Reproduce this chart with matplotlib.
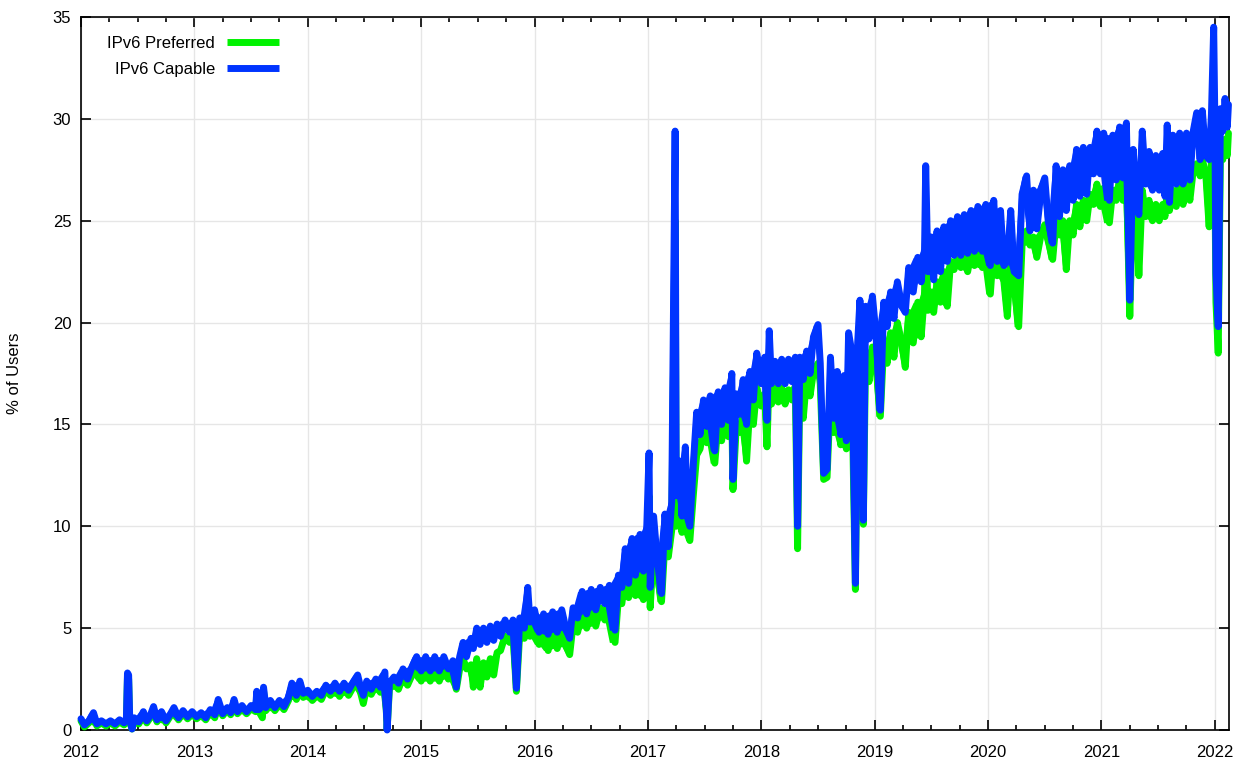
import numpy as np
import matplotlib.pyplot as plt
from matplotlib.ticker import MultipleLocator

# IPv6 adoption, values (hi/lo pairs give the weekly band)
dates = [
    # 2012
    2012.00, 2012.03, 2012.07, 2012.11, 2012.14, 2012.18, 2012.22, 2012.26, 2012.30, 2012.34,
    2012.38, 2012.40, 2012.41, 2012.42, 2012.43, 2012.45, 2012.47, 2012.51, 2012.55, 2012.58,
    2012.61, 2012.64, 2012.67, 2012.71, 2012.75, 2012.79, 2012.82, 2012.86, 2012.90, 2012.94, 2012.98,
    # 2013
    2013.02, 2013.06, 2013.10, 2013.14, 2013.18, 2013.21, 2013.25, 2013.29, 2013.32, 2013.35,
    2013.38, 2013.42, 2013.46, 2013.50, 2013.54, 2013.55, 2013.57, 2013.60, 2013.61, 2013.63,
    2013.67, 2013.71, 2013.75, 2013.79, 2013.83, 2013.86, 2013.90, 2013.93, 2013.96,
    # 2014
    2014.00, 2014.04, 2014.08, 2014.12, 2014.16, 2014.20, 2014.24, 2014.28, 2014.32, 2014.36,
    2014.40, 2014.44, 2014.47, 2014.49, 2014.52, 2014.56, 2014.60, 2014.64, 2014.68, 2014.70,
    2014.72, 2014.76, 2014.80, 2014.84, 2014.88, 2014.92, 2014.96,
    # 2015
    2015.00, 2015.04, 2015.08, 2015.12, 2015.16, 2015.20, 2015.24, 2015.28, 2015.31, 2015.34,
    2015.37, 2015.40, 2015.44, 2015.46, 2015.49, 2015.52, 2015.55, 2015.58, 2015.61, 2015.64,
    2015.67, 2015.70, 2015.74, 2015.78, 2015.81, 2015.84, 2015.87, 2015.91, 2015.94, 2015.96,
    # 2016
    2016.00, 2016.04, 2016.08, 2016.12, 2016.16, 2016.20, 2016.24, 2016.28, 2016.31, 2016.34,
    2016.38, 2016.42, 2016.46, 2016.50, 2016.54, 2016.58, 2016.62, 2016.66, 2016.71, 2016.74,
    2016.77, 2016.80, 2016.83, 2016.86, 2016.89, 2016.93, 2016.96, 2016.99,
    # 2017
    2017.01, 2017.02, 2017.05, 2017.08, 2017.12, 2017.15, 2017.18, 2017.21, 2017.24, 2017.25,
    2017.28, 2017.30, 2017.33, 2017.35, 2017.37, 2017.40, 2017.43, 2017.46, 2017.49, 2017.52,
    2017.55, 2017.59, 2017.62, 2017.65, 2017.68, 2017.71, 2017.74, 2017.75, 2017.78, 2017.81,
    2017.84, 2017.87, 2017.90, 2017.93, 2017.96,
    # 2018
    2018.00, 2018.03, 2018.05, 2018.07, 2018.09, 2018.12, 2018.15, 2018.18, 2018.21, 2018.24,
    2018.27, 2018.30, 2018.32, 2018.34, 2018.37, 2018.40, 2018.43, 2018.46, 2018.50, 2018.52,
    2018.55, 2018.58, 2018.61, 2018.64, 2018.67, 2018.70, 2018.73, 2018.75, 2018.77, 2018.80,
    2018.83, 2018.85, 2018.87, 2018.90, 2018.92, 2018.95, 2018.98,
    # 2019
    2019.01, 2019.05, 2019.08, 2019.11, 2019.14, 2019.17, 2019.20, 2019.24, 2019.27, 2019.30,
    2019.34, 2019.38, 2019.41, 2019.44, 2019.45, 2019.47, 2019.50, 2019.52, 2019.55, 2019.58,
    2019.61, 2019.64, 2019.67, 2019.70, 2019.73, 2019.76, 2019.79, 2019.82, 2019.85, 2019.88,
    2019.91, 2019.95, 2019.98,
    # 2020
    2020.02, 2020.05, 2020.08, 2020.11, 2020.14, 2020.17, 2020.20, 2020.23, 2020.27, 2020.30,
    2020.34, 2020.37, 2020.40, 2020.43, 2020.47, 2020.50, 2020.53, 2020.57, 2020.60, 2020.63,
    2020.66, 2020.69, 2020.72, 2020.75, 2020.78, 2020.81, 2020.84, 2020.87, 2020.90, 2020.93,
    2020.96, 2020.99,
    # 2021
    2021.02, 2021.07, 2021.10, 2021.13, 2021.16, 2021.19, 2021.22, 2021.25, 2021.28, 2021.31,
    2021.33, 2021.36, 2021.39, 2021.42, 2021.45, 2021.48, 2021.51, 2021.54, 2021.56, 2021.58,
    2021.60, 2021.63, 2021.66, 2021.69, 2021.72, 2021.75, 2021.78, 2021.81, 2021.84, 2021.87,
    2021.89, 2021.92, 2021.95, 2021.97, 2021.99,
    # 2022
    2022.00, 2022.01, 2022.03, 2022.05, 2022.07, 2022.09, 2022.11, 2022.12,
]

ipv6_capable = [
    # 2012
    0.55, 0.25, 0.45, 0.85, 0.3, 0.45, 0.3, 0.45, 0.3, 0.5,
    0.35, 0.5, 2.8, 2.7, 0.5, 0.05, 0.6, 0.4, 0.9, 0.45,
    0.7, 1.15, 0.5, 0.9, 0.45, 0.8, 1.1, 0.6, 0.95, 0.65, 0.9,
    # 2013
    0.65, 0.85, 0.6, 1.0, 0.75, 1.5, 0.8, 1.1, 0.85, 1.5,
    0.9, 1.2, 0.9, 1.2, 1.0, 1.9, 1.0, 1.2, 2.1, 1.1,
    1.45, 1.1, 1.45, 1.15, 1.6, 2.3, 1.7, 2.4, 1.8,
    # 2014
    1.95, 1.65, 1.9, 1.7, 2.2, 1.9, 2.3, 1.9, 2.3, 1.95,
    2.35, 2.7, 2.0, 1.7, 2.4, 2.0, 2.5, 2.1, 2.85, 0.0,
    2.3, 2.6, 2.3, 3.0, 2.5, 3.1, 3.6,
    # 2015
    2.9, 3.6, 2.9, 3.6, 2.9, 3.6, 3.0, 3.4, 2.1, 3.6,
    4.3, 3.6, 4.5, 4.0, 5.0, 4.2, 5.0, 4.3, 5.1, 4.4,
    5.2, 4.6, 5.4, 4.8, 5.4, 2.05, 5.5, 5.0, 7.0, 5.3,
    # 2016
    5.9, 4.8, 5.7, 4.7, 5.8, 4.8, 5.9, 4.9, 4.5, 6.0,
    5.5, 6.8, 5.7, 6.9, 5.9, 7.0, 6.2, 7.1, 4.9, 7.6,
    7.0, 8.9, 7.2, 9.4, 7.6, 9.6, 7.8, 10.0,
    # 2017
    13.6, 7.0, 10.5, 8.5, 6.7, 10.6, 9.0, 11.2, 29.4, 11.5,
    13.2, 10.5, 13.9, 10.4, 10.0, 13.0, 15.6, 14.5, 16.2, 14.9,
    16.4, 13.7, 16.6, 15.0, 16.8, 15.2, 17.5, 12.3, 16.5, 15.5,
    17.2, 15.0, 17.6, 16.2, 18.5,
    # 2018
    17.0, 18.3, 15.2, 19.6, 17.0, 18.1, 17.0, 18.2, 17.0, 18.2,
    17.1, 18.3, 10.0, 18.3, 17.2, 18.6, 17.5, 19.3, 19.9, 18.0,
    12.6, 12.8, 18.3, 15.3, 17.6, 14.5, 17.4, 14.2, 19.5, 18.5,
    7.2, 19.0, 21.1, 10.3, 20.8, 19.2, 21.3,
    # 2019
    19.5, 15.7, 21.0, 19.8, 21.5, 20.2, 22.0, 20.8, 20.5, 22.7,
    21.5, 23.2, 22.0, 23.6, 27.7, 22.5, 24.2, 22.1, 24.5, 22.5,
    24.7, 23.0, 25.0, 23.3, 25.2, 23.3, 25.3, 23.4, 25.5, 23.5,
    25.7, 23.5, 25.8,
    # 2020
    22.8, 26.0, 23.0, 25.5, 22.8, 23.0, 25.5, 22.5, 22.3, 26.3,
    27.2, 24.5, 26.5, 24.6, 26.6, 27.1, 25.0, 23.9, 27.7, 25.2,
    27.5, 25.5, 27.7, 26.0, 28.5, 26.2, 28.6, 26.3, 28.6, 27.3,
    29.4, 27.3,
    # 2021
    29.3, 26.0, 29.2, 27.0, 29.6, 27.1, 29.8, 21.1, 28.5, 26.0,
    25.3, 29.4, 26.8, 28.4, 26.5, 28.2, 26.5, 28.3, 26.2, 29.7,
    25.9, 29.2, 26.8, 29.3, 26.8, 29.3, 27.0, 29.4, 30.3, 28.0,
    30.4, 28.2, 28.0, 30.2, 34.5,
    # 2022
    30.0, 22.4, 19.8, 30.5, 29.4, 31.0, 29.6, 30.7,
]

ipv6_preferred = [
    # 2012
    0.45, 0.15, 0.35, 0.7, 0.2, 0.35, 0.2, 0.35, 0.2, 0.4,
    0.25, 0.4, 2.6, 2.5, 0.4, 0.05, 0.45, 0.3, 0.75, 0.35,
    0.6, 1.0, 0.4, 0.8, 0.35, 0.7, 0.95, 0.5, 0.85, 0.55, 0.8,
    # 2013
    0.55, 0.75, 0.5, 0.9, 0.6, 1.35, 0.7, 1.0, 0.75, 1.35,
    0.8, 1.05, 0.8, 1.05, 0.9, 1.7, 0.9, 0.6, 1.9, 0.95,
    1.3, 0.95, 1.3, 1.0, 1.45, 2.1, 1.5, 2.2, 1.6,
    # 2014
    1.75, 1.45, 1.7, 1.5, 2.0, 1.7, 2.05, 1.65, 2.05, 1.7,
    2.1, 2.4, 1.75, 1.3, 2.1, 1.75, 2.2, 1.85, 2.5, 0.05,
    2.0, 2.3, 2.0, 2.6, 2.2, 2.7, 3.1,
    # 2015
    2.4, 3.0, 2.4, 3.0, 2.4, 3.0, 2.5, 2.9, 2.0, 3.0,
    3.5, 3.0, 3.2, 2.1, 3.5, 2.1, 3.3, 2.6, 3.5, 2.7,
    3.8, 3.9, 4.6, 4.3, 4.7, 1.9, 4.8, 4.5, 6.0, 4.6,
    # 2016
    5.0, 4.2, 4.9, 3.9, 5.0, 4.0, 5.0, 4.1, 3.7, 5.2,
    4.8, 5.8, 5.0, 6.0, 5.1, 6.0, 5.4, 6.1, 4.3, 6.5,
    6.2, 7.5, 6.5, 8.0, 6.6, 8.2, 6.4, 8.8,
    # 2017
    11.5, 6.0, 9.0, 7.7, 6.3, 9.2, 8.5, 9.8, 25.0, 10.0,
    11.0, 9.7, 12.0, 9.6, 9.3, 11.5, 13.5, 13.8, 14.8, 14.1,
    15.0, 13.1, 15.2, 14.2, 15.4, 14.4, 15.5, 11.8, 15.0, 14.6,
    15.5, 13.2, 16.0, 15.0, 16.8,
    # 2018
    15.9, 16.5, 13.9, 17.5, 16.0, 16.8, 16.1, 16.8, 16.0, 16.7,
    16.2, 16.9, 8.9, 17.0, 15.3, 17.3, 16.4, 17.6, 18.0, 17.0,
    12.3, 12.4, 16.5, 14.6, 16.0, 14.0, 15.5, 13.8, 17.0, 16.5,
    6.9, 17.0, 18.5, 10.1, 18.5, 17.1, 18.8,
    # 2019
    18.0, 15.4, 19.0, 18.0, 19.5, 18.3, 20.0, 19.0, 17.8, 20.5,
    19.0, 21.0, 19.3, 21.5, 25.0, 20.6, 21.5, 20.5, 22.0, 21.0,
    22.5, 20.8, 23.0, 22.6, 23.2, 22.7, 23.3, 22.5, 23.4, 22.8,
    23.6, 22.7, 23.8,
    # 2020
    21.4, 23.8, 22.3, 23.5, 22.0, 20.3, 23.3, 21.8, 19.8, 23.8,
    24.5, 23.8, 24.2, 23.2, 24.4, 24.8, 24.0, 23.1, 25.0, 24.3,
    25.0, 22.6, 25.0, 24.3, 25.8, 24.7, 26.0, 25.0, 26.3, 25.8,
    26.8, 25.7,
    # 2021
    26.6, 24.9, 26.5, 26.0, 27.0, 26.0, 27.2, 20.3, 26.5, 25.5,
    22.3, 26.5, 25.2, 26.0, 25.0, 25.8, 25.0, 25.8, 25.2, 26.5,
    25.5, 26.5, 25.7, 26.8, 25.8, 27.0, 26.0, 27.5, 27.8, 27.2,
    28.0, 27.3, 24.7, 28.0, 30.0,
    # 2022
    27.5, 21.0, 18.5, 28.5, 28.0, 29.0, 28.2, 29.3,
]

year_ticks = list(range(2012, 2023))
green = '#00f200'
blue = '#0034ff'


def pair_envelope(values):
    # min/max of each sample and the next one, so the daily wiggle reads as a solid band
    v = np.asarray(values, dtype=float)
    nxt = np.append(v[1:], v[-1])
    return np.minimum(v, nxt), np.maximum(v, nxt)


plt.rcParams['font.family'] = ['Liberation Sans', 'DejaVu Sans']

fig = plt.figure(figsize=(12.47, 7.68), dpi=100)
ax = fig.add_axes([81 / 1247, 1 - 730 / 768, (1229 - 81) / 1247, (730 - 17) / 768])

line_kw = dict(linewidth=5.0, solid_joinstyle='round', solid_capstyle='round', clip_on=False)
for vals, col, lab, z in [(ipv6_preferred, green, 'IPv6 Preferred', 3),
                          (ipv6_capable, blue, 'IPv6 Capable', 5)]:
    lo, hi = pair_envelope(vals)
    ax.fill_between(dates, lo, hi, color=col, linewidth=0, zorder=z, clip_on=False)
    ax.plot(dates, vals, color=col, label=lab, zorder=z + 0.5, **line_kw)

ax.set_xlim(2012, 2022.125)
ax.set_ylim(0, 35)
ax.set_xticks(year_ticks)
ax.set_xticklabels([str(y) for y in year_ticks])
ax.xaxis.set_minor_locator(MultipleLocator(0.25))
ax.yaxis.set_major_locator(MultipleLocator(5))

ax.tick_params(which='both', direction='in', top=True, right=True, width=1.2, colors='black')
ax.tick_params(which='major', length=7, labelsize=12)
ax.tick_params(axis='x', which='major', pad=11)
ax.tick_params(axis='y', which='major', pad=7)
ax.tick_params(which='minor', length=3.5)

ax.grid(True, which='major', color='#e6e6e6', linewidth=1.0)
ax.set_axisbelow(True)
for s in ax.spines.values():
    s.set_linewidth(1.2)

ax.set_ylabel('% of Users', fontsize=12, labelpad=22)

leg = ax.legend(loc='upper left', bbox_to_anchor=(0.01, 0.995), frameon=False, markerfirst=False,
                fontsize=12, handlelength=3.1, handletextpad=0.7, labelspacing=0.7)
for h in leg.get_lines():
    h.set_linewidth(5)
    h.set_solid_capstyle('butt')

fig.savefig('out.png', dpi=100)
